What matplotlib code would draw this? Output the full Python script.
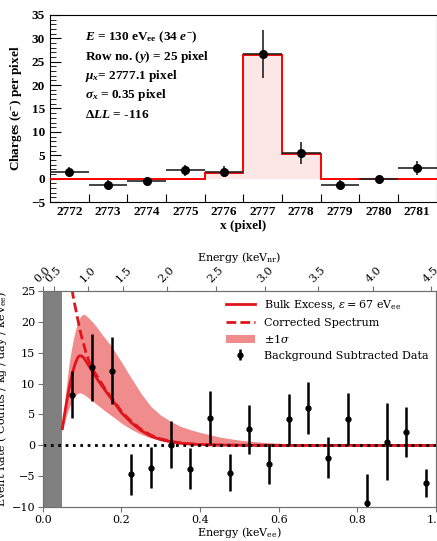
import matplotlib
matplotlib.use('Agg')
import matplotlib.pyplot as plt
from matplotlib.font_manager import FontProperties
from matplotlib.lines import Line2D
from matplotlib.patches import Patch

plt.rcParams['mathtext.fontset'] = 'dejavuserif'
plt.rcParams['mathtext.rm'] = 'Liberation Serif:bold'
plt.rcParams['mathtext.it'] = 'Liberation Serif:bold:italic'
plt.rcParams['mathtext.bf'] = 'Liberation Serif:bold'

# Top panel: charge per pixel for one cluster
pixels = [2772, 2773, 2774, 2775, 2776, 2777, 2778, 2779, 2780, 2781]
charges = [1.4, -1.3, -0.45, 1.8, 1.5, 26.7, 5.5, -1.3, 0.0, 2.3]
charge_err = [1.1, 1.0, 0.3, 1.2, 1.2, 5.1, 2.3, 1.0, 0.2, 1.5]
model = [0.0, 0.0, 0.0, 0.0, 1.15, 26.5, 5.3, 0.0, 0.0, 0.0]
info_lines = [r'$E$ = 130 eV$_{\mathrm{ee}}$ (34 $e^{\mathrm{-}}$)',
              r'Row no. ($y$) = 25 pixel',
              r'$\mu_x$= 2777.1 pixel',
              r'$\sigma_x$ = 0.35 pixel',
              r'$ΔLL$ = -116']

# Bottom panel: spectrum
bin_ee = [0.075, 0.125, 0.175, 0.225, 0.275, 0.325, 0.375, 0.425, 0.475, 0.525,
          0.575, 0.625, 0.675, 0.725, 0.775, 0.825, 0.875, 0.925, 0.975]
rate = [8.2, 12.65, 12.1, -4.7, -3.6, 0.1, -3.8, 4.5, -4.4, 2.6,
        -3.0, 4.2, 6.1, -2.0, 4.25, -9.3, 0.6, 2.2, -6.1]
rate_err = [3.8, 5.4, 5.4, 3.3, 3.3, 3.8, 3.3, 4.3, 3.0, 4.0,
            3.3, 4.1, 4.2, 3.3, 4.2, 4.7, 6.2, 4.0, 2.3]

curve_ee = [0.05, 0.055, 0.06, 0.065, 0.07, 0.075, 0.08, 0.085, 0.09, 0.095,
            0.10, 0.105, 0.11, 0.12, 0.13, 0.14, 0.15, 0.16, 0.175, 0.19,
            0.2, 0.225, 0.25, 0.275, 0.3, 0.325, 0.35, 0.375, 0.4, 0.45,
            0.5, 0.55, 0.6, 0.7, 0.8, 0.9, 1.0]
bulk = [2.7, 4.8, 6.7, 8.5, 10.1, 11.5, 12.7, 13.6, 14.3, 14.5,
        14.4, 14.1, 13.6, 12.6, 11.6, 10.6, 9.7, 8.8, 7.5, 6.2,
        5.3, 3.7, 2.4, 1.5, 0.95, 0.6, 0.36, 0.22, 0.13, 0.05,
        0.02, 0.01, 0.0, 0.0, 0.0, 0.0, 0.0]
band_hi = [3.6, 6.5, 9.5, 12.2, 14.4, 16.2, 17.8, 19.0, 20.0, 20.7,
           21.1, 21.2, 21.0, 20.4, 19.7, 18.9, 18.0, 17.2, 16.0, 14.5,
           13.5, 10.9, 8.4, 6.3, 4.9, 3.9, 3.1, 2.55, 2.1, 1.35,
           0.85, 0.55, 0.35, 0.15, 0.06, 0.02, 0.01]
band_lo = [2.3, 3.6, 4.7, 5.7, 6.5, 7.2, 7.8, 8.2, 8.45, 8.5,
           8.4, 8.2, 8.0, 7.5, 7.0, 6.5, 6.0, 5.5, 4.8, 4.1,
           3.6, 2.6, 1.8, 1.2, 0.75, 0.45, 0.27, 0.16, 0.1, 0.03,
           0.01, 0.0, 0.0, 0.0, 0.0, 0.0, 0.0]

corr_ee = [0.07, 0.075, 0.08, 0.085, 0.09, 0.095, 0.1, 0.105, 0.11, 0.12,
           0.13, 0.14, 0.15, 0.16, 0.175, 0.19, 0.2, 0.225, 0.25, 0.275,
           0.3, 0.325, 0.35, 0.375, 0.4, 0.45, 0.5, 0.55, 0.6, 0.7,
           0.8, 0.9, 1.0]
corrected = [27.5, 25.0, 23.2, 21.7, 20.1, 18.6, 17.3, 16.2, 15.0, 13.2,
             12.0, 11.0, 10.0, 9.0, 7.7, 6.4, 5.5, 3.9, 2.6, 1.65,
             1.05, 0.66, 0.4, 0.25, 0.15, 0.055, 0.02, 0.01, 0.0, 0.0,
             0.0, 0.0, 0.0]

# nuclear recoil scale on top (tick positions read in keVee)
nr_labels = ['0.0', '0.5', '1.0', '1.5', '2.0', '2.5', '3.0', '3.5', '4.0', '4.5']
nr_pos_ee = [0.0, 0.028, 0.114, 0.205, 0.315, 0.44, 0.565, 0.699, 0.841, 0.987]

threshold = 0.05

fig = plt.figure(figsize=(4.37, 5.41), dpi=100)

# ---------------- top panel ----------------
bold9 = FontProperties(family='Liberation Serif', weight='bold', size=9.5, math_fontfamily='custom')
ax1 = fig.add_axes([0.1144, 0.6266, 0.8845, 0.3457])
edges = [p - 0.5 for p in pixels] + [pixels[-1] + 0.5]
ax1.stairs(model, edges, fill=True, color='#fde6e6', zorder=1)
ax1.stairs(model, edges, baseline=None, color='red', lw=1.4, zorder=3)
ax1.errorbar(pixels, charges, yerr=charge_err, xerr=0.5, fmt='o', color='black',
             ms=5.5, elinewidth=1.2, ecolor='#222222', capsize=0, zorder=4)
ax1.set_xlim(edges[0], edges[-1])
ax1.set_ylim(-5, 35)
ax1.set_xticks(edges[1:-1], labels=[''] * (len(edges) - 2))
ax1.set_xticks(pixels, labels=[str(p) for p in pixels], minor=True)
ax1.tick_params(axis='x', which='major', direction='in', length=6, width=0.8)
ax1.tick_params(axis='x', which='minor', length=0, pad=3)
ax1.set_yticks(range(-5, 36, 5))
ax1.set_yticks(range(-5, 36, 1), minor=True)
ax1.tick_params(axis='y', which='major', direction='in', length=8, width=0.8)
ax1.tick_params(axis='y', which='minor', direction='in', length=4, width=0.6)
for lab in ax1.get_yticklabels() + ax1.get_xticklabels(minor=True):
    lab.set_fontproperties(bold9)
ax1.set_xlabel('x (pixel)', fontproperties=bold9, labelpad=1)
ax1.set_ylabel(r'Charges (e$^{\mathrm{-}}$) per pixel', fontproperties=bold9, labelpad=5)
for i, line in enumerate(info_lines):
    ax1.text(0.09, 0.882 - i * 0.104, line, transform=ax1.transAxes,
             va='center', ha='left', fontproperties=bold9)

# ---------------- bottom panel ----------------
serif8 = FontProperties(family='DejaVu Serif', size=8, math_fontfamily='dejavuserif')
spine_col = '#707070'
ax2 = fig.add_axes([0.0977, 0.0623, 0.9, 0.4004])
ax2.axvspan(0, threshold, color='#808080', lw=0, zorder=1)
ax2.fill_between(curve_ee, band_lo, band_hi, color='#f08c8c', lw=0, zorder=2)
ax2.plot(curve_ee, bulk, color='#e0141c', lw=2, zorder=3)
ax2.plot(corr_ee, corrected, color='#e0141c', lw=2, ls=(0, (3.5, 1.5)), zorder=3)
ax2.axhline(0, color='black', ls=':', lw=2, zorder=4)
ax2.errorbar(bin_ee, rate, yerr=rate_err, fmt='o', color='black', ms=3.5,
             elinewidth=1.8, capsize=0, zorder=5)
ax2.set_xlim(0, 1)
ax2.set_ylim(-10, 25)
ax2.set_xticks([0.0, 0.2, 0.4, 0.6, 0.8, 1.0])
ax2.set_yticks([-10, -5, 0, 5, 10, 15, 20, 25])
ax2.tick_params(direction='out', length=3.5, width=0.8, color=spine_col, pad=2)
for lab in ax2.get_xticklabels() + ax2.get_yticklabels():
    lab.set_fontproperties(serif8)
ax2.set_xlabel(r'Energy (keV$_{\mathrm{ee}}$)', fontproperties=serif8, labelpad=0)
ax2.set_ylabel(r'Event Rate ( Counts / kg / day / keV$_{\mathrm{ee}}$)', fontproperties=serif8, labelpad=2)

ax3 = ax2.twiny()
ax3.set_xlim(0, 1)
ax3.set_xticks(nr_pos_ee, labels=nr_labels, rotation=45)
ax3.tick_params(direction='out', length=3.5, width=0.8, color=spine_col, pad=1)
for lab in ax3.get_xticklabels():
    lab.set_fontproperties(serif8)
ax3.set_xlabel(r'Energy (keV$_{\mathrm{nr}}$)', fontproperties=serif8, labelpad=3)
for a in (ax2, ax3):
    for sp in a.spines.values():
        sp.set_color(spine_col)

handles = [Line2D([], [], color='#e0141c', lw=2),
           Line2D([], [], color='#e0141c', lw=2, ls=(0, (3.5, 1.5))),
           Patch(color='#f08c8c', lw=0),
           ax2.containers[0]]
labels = [r'Bulk Excess, $\varepsilon = 67$ eV$_{\mathrm{ee}}$',
          'Corrected Spectrum', r'$\pm1\sigma$', 'Background Subtracted Data']
ax2.legend(handles, labels, loc='upper right', frameon=False, prop=serif8,
           handlelength=2.6, borderaxespad=0.3, labelspacing=0.5)

fig.savefig('out.png', dpi=100)
